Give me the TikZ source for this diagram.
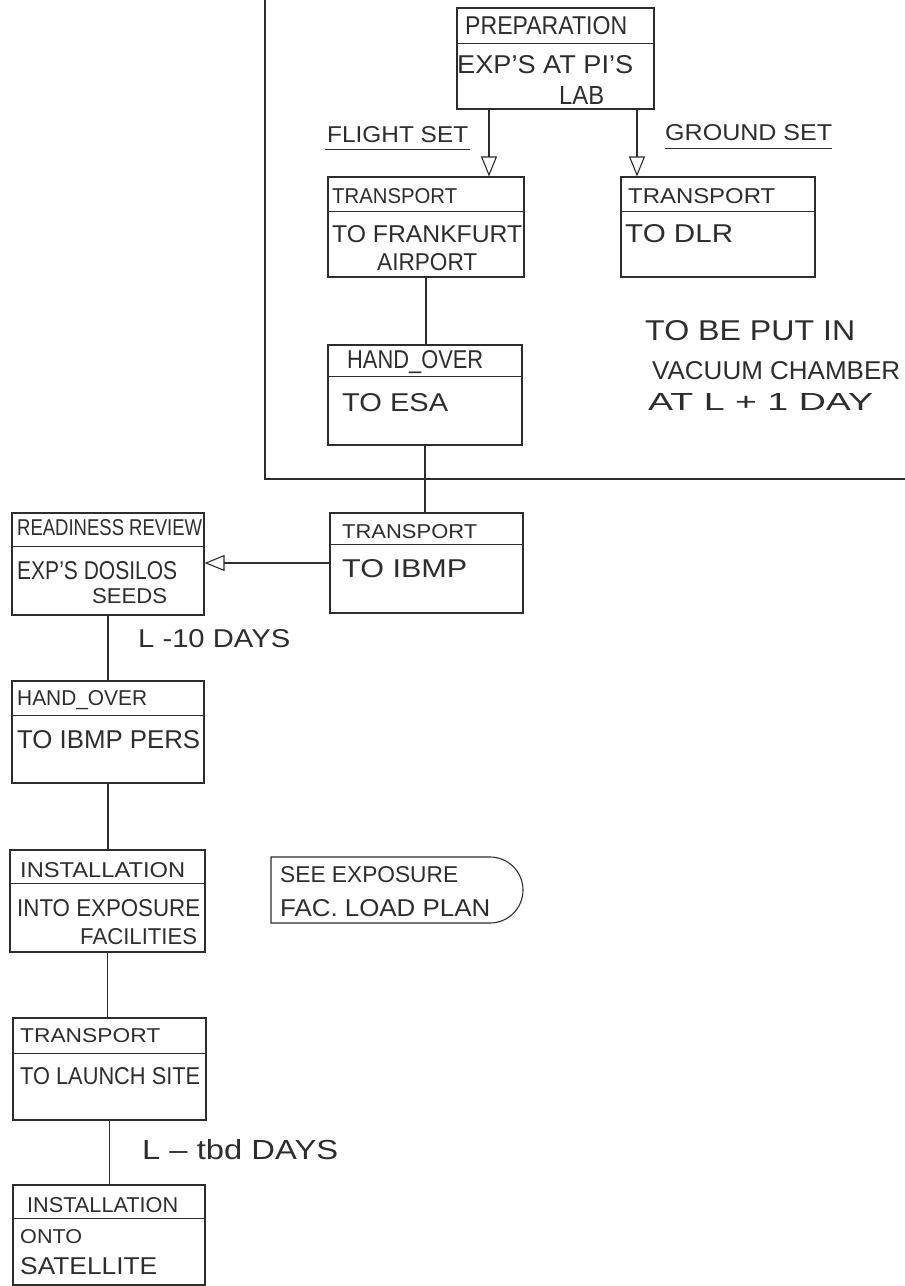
\documentclass[tikz,border=0pt]{standalone}
\usepackage{fontspec}
\setmainfont{Liberation Sans}
\usepackage{graphicx}
\usetikzlibrary{arrows.meta,shapes.misc}
\definecolor{ink}{RGB}{45,45,45}
\tikzset{
  pbx/.style={draw=ink, line width=1.1pt, rectangle, inner sep=0pt},
  divl/.style={draw=ink, line width=0.9pt},
  txt/.style={anchor=west, inner sep=0pt, text=ink},
  conn/.style={draw=ink, line width=1.1pt},
  openarr/.style={-{Triangle[open, length=20pt, width=16pt, line width=1.1pt]}},
  framel/.style={draw=ink, line width=1.2pt},
}
\newcommand\pbox[6]{%
  \node[pbx, minimum width={(#4-#2)*1pt}, minimum height={(#5-#3)*1pt}] (#1) at ({(#2+#4)/2},{(#3+#5)/2}) {};
  \draw[divl] (#2,#6) -- (#4,#6);}
\newcommand\tx[6]{\node[txt] (#1) at (#2,#3) {\resizebox{#4pt}{#5pt}{#6}};}
\begin{document}
\begin{tikzpicture}[x=1pt,y=-1pt]
\useasboundingbox (0,0) rectangle (905,1286);
% frame
\draw[framel] (265,0) -- (265,479) -- (905,479);
% boxes
\pbox{prep}{457}{8}{654}{109}{43}
\pbox{fra}{328}{177}{524}{277}{211}
\pbox{dlr}{621}{177}{815}{277}{211}
\pbox{hoesa}{328}{345}{522}{445}{376}
\pbox{ibmp}{330}{513}{523}{613}{544}
\pbox{rr}{12}{513}{204}{615}{546}
\pbox{hoibmp}{12}{681}{204}{783}{715}
\pbox{insta}{10}{850}{205}{952}{883}
\pbox{trls}{13}{1018}{206}{1120}{1053}
\pbox{instb}{13}{1185}{205}{1285}{1218}
\node[draw=ink, line width=1.1pt, rounded rectangle, rounded rectangle left arc=none,
      minimum width=252pt, minimum height=66pt, inner sep=0pt] (see) at (397,890) {};
% connectors
\coordinate (fx) at (489,0);
\coordinate (gx) at (637,0);
\draw[conn, openarr] (prep.south -| fx) -- (fra.north -| fx);
\draw[conn, openarr] (prep.south -| gx) -- (dlr.north -| gx);
\draw[conn] (fra.south) -- (fra.south |- hoesa.north);
\draw[conn] (hoesa.south) -- (hoesa.south |- ibmp.north);
\draw[conn, openarr] (ibmp.west) -- (ibmp.west -| rr.east);
\draw[conn] (rr.south) -- (rr.south |- hoibmp.north);
\draw[conn] (hoibmp.south) -- (hoibmp.south |- insta.north);
\draw[conn] (insta.south) -- (insta.south |- trls.north);
\draw[conn] (trls.south) -- (trls.south |- instb.north);
% texts
\tx{t1}{465}{26}{162}{18}{PREPARATION}
\tx{t2}{457}{65}{176}{18}{EXP'S AT PI'S}
\tx{t3}{559}{95}{45}{18}{LAB}
\tx{t4}{327}{135}{141}{16}{FLIGHT SET}
\tx{t5}{665}{133}{167}{16}{GROUND SET}
\draw[conn] (t4.south west) ++(-2,6) -- ++(145,0);
\draw[conn] (t5.south west) ++(0,7) -- ++(167,0);
\tx{t6}{332}{196}{125}{15}{TRANSPORT}
\tx{t7}{332}{234}{190}{17}{TO FRANKFURT}
\tx{t8}{377}{262}{100}{17}{AIRPORT}
\tx{t9}{628}{196}{147}{15}{TRANSPORT}
\tx{t10}{625}{234}{108}{18}{TO DLR}
\tx{t11}{645}{331}{210}{20}{TO BE PUT IN}
\tx{t12}{652}{371}{248}{18}{VACUUM CHAMBER}
\tx{t13}{648}{402}{225}{17}{AT L + 1 DAY}
\tx{t14}{347}{362}{136}{18}{HAND\_OVER}
\tx{t15}{342}{403}{106}{18}{TO ESA}
\tx{t16}{342}{532}{135}{14}{TRANSPORT}
\tx{t17}{342}{569}{125}{18}{TO IBMP}
\tx{t18}{17}{528}{185}{16}{READINESS REVIEW}
\tx{t19}{17}{571}{160}{18}{EXP'S DOSILOS}
\tx{t20}{92}{596}{75}{15}{SEEDS}
\tx{t21}{138}{639}{152}{18}{L -10 DAYS}
\tx{t22}{17}{700}{130}{15}{HAND\_OVER}
\tx{t23}{17}{740}{183}{18}{TO IBMP PERS}
\tx{t24}{20}{870}{165}{15}{INSTALLATION}
\tx{t25}{17}{908}{183}{17}{INTO EXPOSURE}
\tx{t26}{80}{937}{117}{16}{FACILITIES}
\tx{t27}{280}{875}{178}{16}{SEE EXPOSURE}
\tx{t28}{280}{908}{210}{17}{FAC. LOAD PLAN}
\tx{t29}{20}{1036}{140}{14}{TRANSPORT}
\tx{t30}{20}{1076}{180}{17}{TO LAUNCH SITE}
\tx{t31}{142}{1150}{196}{20}{L – tbd DAYS}
\tx{t32}{27}{1205}{151}{15}{INSTALLATION}
\tx{t33}{20}{1237}{62}{14}{ONTO}
\tx{t34}{20}{1266}{137}{17}{SATELLITE}
\end{tikzpicture}
\end{document}
